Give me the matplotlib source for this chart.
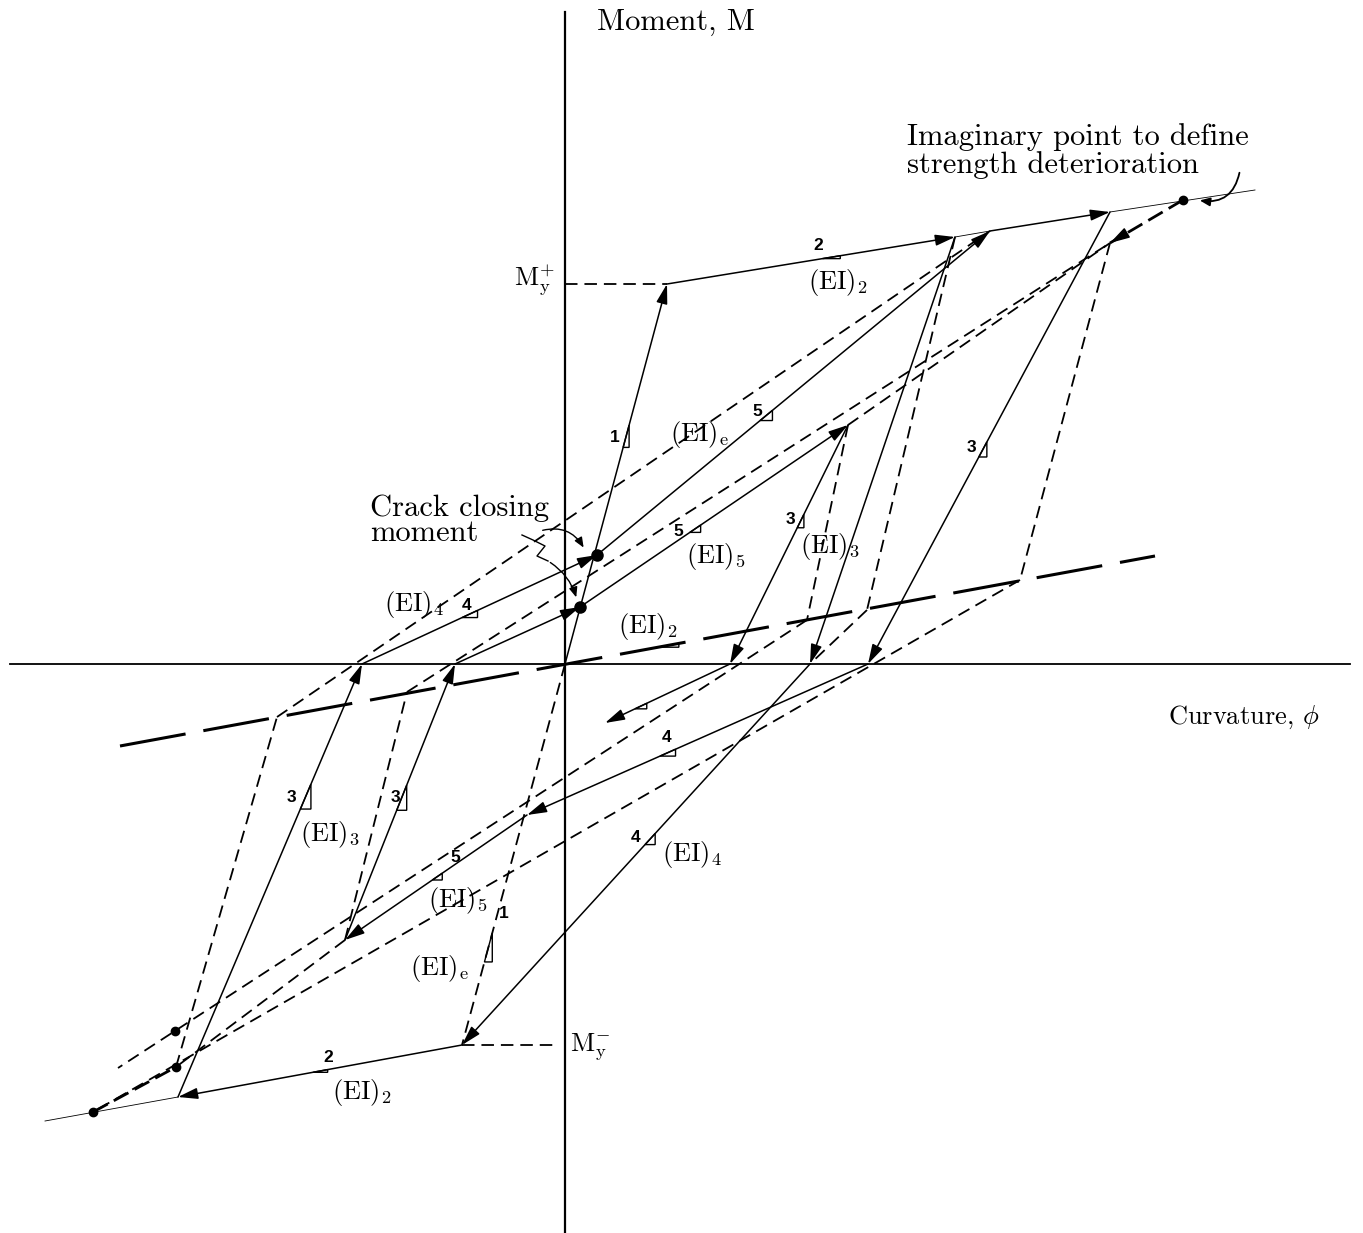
import numpy as np
import matplotlib
matplotlib.use("Agg")
import matplotlib.pyplot as plt
from matplotlib.patches import FancyArrowPatch, Polygon

plt.rcParams['mathtext.fontset'] = 'cm'
plt.rcParams['lines.scale_dashes'] = False

# === KEY POINTS (curvature, moment) ===
origin = (0, 0)
yield_pos = (102, 380)
peak_1 = (390, 427)
peak_2 = (425, 433)
peak_3 = (545, 452)
imag_pos = (618, 464)
env_pos_end = (690, 474)
target_pos = (545, 421)
peak_4 = (283, 239)
crack_1 = (32, 109)
crack_2 = (15, 57)
zero_1 = (245, 0)
zero_2 = (-203, 0)
zero_3 = (303, 0)
zero_4 = (165, 0)
zero_5 = (-110, 0)
pivot_1 = (302, 54)
pivot_2 = (-288, -53)
pivot_3 = (455, 84)
pivot_4 = (242, 44)
pivot_5 = (-158, -28)
yield_neg = (-103, -381)
peak_neg_1 = (-387, -433)
imag_neg = (-472, -448)
env_neg_end = (-520, -457)
target_neg_1 = (-389, -403)
target_neg_2 = (-390, -367)
peak_neg_2 = (-220, -276)
crack_neg = (-38, -151)
last_point = (40, -59)
reload_end = (-447, -404)
crack_line = [(-445, -82), (590, 108)]

# loading history, drawn as solid arrows
history = [origin, yield_pos, peak_1, zero_1, yield_neg, peak_neg_1, zero_2,
           crack_1, peak_2, peak_3, zero_3, crack_neg, peak_neg_2, zero_5,
           crack_2, peak_4, zero_4, last_point]

# envelope continuation (thin)
thin_lines = [(peak_1, peak_2), (peak_3, env_pos_end), (peak_neg_1, env_neg_end)]

# reference / target lines (dashed)
dashed_lines = [
    ((0, 380), yield_pos), (yield_neg, (-8, -381)), (origin, yield_neg),
    (peak_1, pivot_1), (pivot_1, zero_1),
    (target_pos, pivot_3), (pivot_3, imag_neg),
    (peak_4, pivot_4), (pivot_4, reload_end), (peak_4, target_pos),
    (target_neg_1, pivot_2), (pivot_2, peak_2),
    (peak_neg_2, pivot_5), (pivot_5, target_pos), (peak_neg_2, target_neg_1),
]
heavy_dashed = [(imag_pos, target_pos), (imag_neg, target_neg_1)]

small_dots = [imag_pos, imag_neg, target_neg_1, target_neg_2]
big_dots = [crack_1, crack_2]

# slope markers: (segment start, segment end, position, size, label, label pos)
slope_marks = [
    (origin, yield_pos, 0.57, 23, '1', (50, 227)),
    (yield_pos, peak_1, 0.54, 18, '2', (253, 419)),
    (crack_1, peak_2, 0.415, 16, '5', (192, 252)),
    (zero_3, peak_3, 0.458, 17, '3', (406, 216)),
    (zero_4, peak_4, 0.57, 15, '3', (225, 144)),
    (crack_2, peak_4, 0.41, 13, '5', (113, 133)),
    (zero_2, crack_1, 0.426, 17, '4', (-98, 58)),
    (crack_line[0], crack_line[1], 0.52, 21, '', None),
    (last_point, zero_4, 0.24, 13, '', None),
    (crack_neg, zero_3, 0.39, 17, '4', (102, -73)),
    (yield_neg, zero_1, 0.526, 15, '4', (71, -174)),
    (peak_neg_1, zero_2, 0.665, 27, '3', (-274, -133)),
    (peak_neg_2, zero_5, 0.47, 27, '3', (-170, -133)),
    (peak_neg_2, crack_neg, 0.48, 12, '5', (-110, -194)),
    (yield_neg, origin, 0.218, 30, '1', (-61, -249)),
    (peak_neg_1, yield_neg, 0.475, 15, '2', (-237, -393)),
]

# stiffness labels: (subscript, position)
ei_labels = [
    ('e', (105, 229)), ('2', (243, 381)), ('3', (235, 117)), ('5', (121, 107)),
    ('4', (-181, 59)), ('2', (53, 37)), ('4', (97, -191)), ('3', (-265, -171)),
    ('5', (-137, -236)), ('e', (-155, -304)), ('2', (-233, -429)),
]

SERIF = 'cmr10'
TXT = 19
NOTE = 22


def arrow_seg(ax, p, q):
    ax.annotate('', xy=q, xytext=p,
                arrowprops=dict(arrowstyle='-|>,head_length=0.6,head_width=0.17',
                                lw=1.1, color='k', shrinkA=0, shrinkB=0,
                                mutation_scale=20))


def slope_triangle(ax, p, q, t, size):
    p, q = np.array(p, float), np.array(q, float)
    d = q - p
    a = p + t * d
    b = a + size * d / np.hypot(*d)
    ax.add_patch(Polygon([a, b, (b[0], a[1])], closed=True, fill=False,
                         lw=1.0, ec='k', joinstyle='miter'))


fig = plt.figure(figsize=(13.63, 12.33), dpi=100)
ax = fig.add_axes([0, 0, 1, 1])
ax.set_xlim(-565, 798)
ax.set_ylim(-569, 664)
ax.axis('off')

# axes
ax.plot([0, 0], [-569, 652], color='k', lw=1.6)
ax.plot([-555, 785], [0, 0], color='k', lw=1.3)

# crack line through the origin
(x0, y0), (x1, y1) = crack_line
ax.plot([x0, x1], [y0, y1], color='k', lw=2.2, dashes=(48, 13))

for p, q in thin_lines:
    ax.plot([p[0], q[0]], [p[1], q[1]], color='k', lw=0.6)

for p, q in dashed_lines:
    ax.plot([p[0], q[0]], [p[1], q[1]], color='k', lw=1.3, dashes=(9, 5))

for p, q in heavy_dashed:
    ax.plot([p[0], q[0]], [p[1], q[1]], color='k', lw=2.0, dashes=(12, 5))
arrow_seg(ax, (560, 430), target_pos)

for p, q in zip(history[:-1], history[1:]):
    arrow_seg(ax, p, q)

for p in small_dots:
    ax.plot(*p, 'o', color='k', ms=6)
for p in big_dots:
    ax.plot(*p, 'o', color='k', ms=8)

for p, q, t, size, lab, pos in slope_marks:
    slope_triangle(ax, p, q, t, size)
    if lab:
        ax.text(*pos, lab, fontsize=12.5, fontweight='bold', family='Liberation Sans',
                ha='center', va='center')

for sub, pos in ei_labels:
    ax.text(*pos, r'$\mathrm{(EI)}_{\mathrm{%s}}$' % sub, fontsize=TXT,
            ha='left', va='center')

# axis titles and yield levels
ax.text(32, 642, 'Moment, M', family=SERIF, fontsize=NOTE, ha='left', va='center')
ax.text(603, -53, r'Curvature, $\phi$', family=SERIF, fontsize=TXT,
        ha='left', va='center')
ax.text(-10, 384, r'$\mathrm{M}_{\mathrm{y}}^{+}$', fontsize=TXT, ha='right', va='center')
ax.text(5, -383, r'$\mathrm{M}_{\mathrm{y}}^{-}$', fontsize=TXT, ha='left', va='center')

# notes
ax.text(342, 527, 'Imaginary point to define', family=SERIF, fontsize=NOTE,
        ha='left', va='center')
ax.text(342, 499, 'strength deterioration', family=SERIF, fontsize=NOTE,
        ha='left', va='center')
ax.add_patch(FancyArrowPatch((675, 494), (632, 464), connectionstyle='arc3,rad=-0.5',
                             arrowstyle='-|>,head_length=6,head_width=2.5',
                             lw=1.3, color='k'))

ax.text(-195, 156, 'Crack closing', family=SERIF, fontsize=NOTE, ha='left', va='center')
ax.text(-195, 131, 'moment', family=SERIF, fontsize=NOTE, ha='left', va='center')
ax.add_patch(FancyArrowPatch((-25, 133), (20, 114), connectionstyle='arc3,rad=-0.4',
                             arrowstyle='-|>,head_length=6,head_width=2.5',
                             lw=1.0, color='k'))
squiggle = np.array([(-43, 129), (-32, 124), (-20, 118), (-28, 108), (-17, 103)])
ax.plot(squiggle[:, 0], squiggle[:, 1], color='k', lw=1.0)
ax.add_patch(FancyArrowPatch((-17, 103), (12, 64), connectionstyle='arc3,rad=-0.2',
                             arrowstyle='-|>,head_length=6,head_width=2.5',
                             lw=1.0, color='k'))

fig.savefig('out.png', dpi=100, facecolor='white')
